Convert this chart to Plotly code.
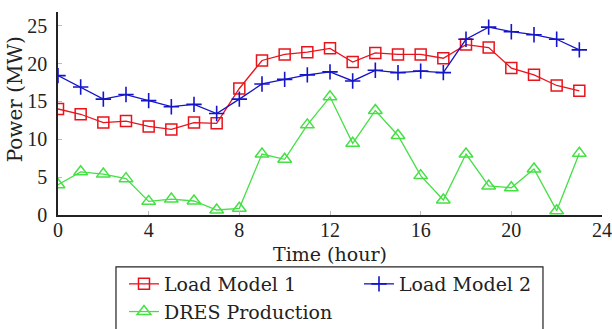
import plotly.graph_objects as go

hours = list(range(24))
load_model_1 = [14.0, 13.3, 12.2, 12.4, 11.7, 11.3, 12.2, 12.1, 16.7, 20.4, 21.2, 21.5,
                22.0, 20.2, 21.4, 21.2, 21.2, 20.7, 22.5, 22.1, 19.4, 18.5, 17.1, 16.4]
load_model_2 = [18.4, 16.9, 15.3, 15.9, 15.1, 14.3, 14.6, 13.4, 15.3, 17.3, 17.9, 18.5,
                18.9, 17.7, 19.1, 18.8, 19.0, 18.8, 23.2, 24.8, 24.2, 23.8, 23.2, 21.8]
dres_production = [4.0, 5.7, 5.4, 4.8, 1.8, 2.1, 1.85, 0.66, 0.88, 8.05, 7.35, 11.9,
                   15.6, 9.46, 13.8, 10.5, 5.2, 1.98, 8.05, 3.83, 3.6, 6.07, 0.57, 8.14]
x_ticks = [0, 4, 8, 12, 16, 20, 24]
y_ticks = [0, 5, 10, 15, 20, 25]

TICK_FONT = "Liberation Serif"
TEXT_FONT = "DejaVu Serif"
TXT = "#222222"
RED = "#e8141c"
BLUE = "#1414c8"
GREEN = "#44e044"

fig = go.Figure()
fig.add_trace(go.Scatter(x=hours, y=load_model_1, name="Load Model 1", mode="lines+markers",
                         line=dict(color=RED, width=1.3),
                         marker=dict(symbol="square-open", size=11, color=RED, line=dict(width=1.5))))
fig.add_trace(go.Scatter(x=hours, y=load_model_2, name="Load Model 2", mode="lines+markers",
                         line=dict(color=BLUE, width=1.3),
                         marker=dict(symbol="cross-thin", size=11, color=BLUE, line=dict(width=1.6, color=BLUE))))
fig.add_trace(go.Scatter(x=hours, y=dres_production, name="DRES Production", mode="lines+markers",
                         line=dict(color=GREEN, width=1.3),
                         marker=dict(symbol="triangle-up-open", size=12, color=GREEN, line=dict(width=1.5))))

fig.update_layout(
    width=612, height=329,
    margin=dict(l=58, r=10, t=12, b=114, autoexpand=False),
    paper_bgcolor="white", plot_bgcolor="white",
    font=dict(family=TEXT_FONT, size=19, color=TXT),
    showlegend=True,
    legend=dict(orientation="h", x=0.1213, xanchor="left", y=-0.2463, yanchor="top",
                borderwidth=0, bgcolor="rgba(0,0,0,0)",
                font=dict(family=TEXT_FONT, size=19, color=TXT),
                entrywidth=190, entrywidthmode="pixels"),
    xaxis=dict(range=[0, 24], tickvals=x_ticks, showgrid=False, zeroline=False,
               showline=True, linecolor=TXT, linewidth=1.5,
               ticks="inside", ticklen=4, tickcolor="#bbbbbb",
               tickfont=dict(family=TICK_FONT, size=20, color=TXT), ticklabelstandoff=-4,
               ticklabeloverflow="allow"),
    yaxis=dict(range=[0, 26.8], tickvals=y_ticks, showgrid=False, zeroline=False,
               showline=True, linecolor=TXT, linewidth=1.5,
               ticks="inside", ticklen=4, tickcolor="#bbbbbb",
               tickfont=dict(family=TICK_FONT, size=20, color=TXT), ticklabelstandoff=5),
    annotations=[
        dict(text="Power (MW)", xref="paper", yref="paper", x=-0.079, y=0.57,
             xanchor="center", yanchor="middle", textangle=-90, showarrow=False,
             font=dict(family=TEXT_FONT, size=20, color=TXT)),
        dict(text="Time (hour)", xref="paper", yref="paper", x=0.5, y=-0.192,
             xanchor="center", yanchor="middle", showarrow=False,
             font=dict(family=TEXT_FONT, size=19, color=TXT)),
    ],
    shapes=[dict(type="rect", xref="paper", yref="paper", x0=0.1066, x1=0.8915,
                 y0=-0.75, y1=-0.256, line=dict(color=TXT, width=1.2), fillcolor="rgba(0,0,0,0)")],
)

fig.write_html("out.html")
